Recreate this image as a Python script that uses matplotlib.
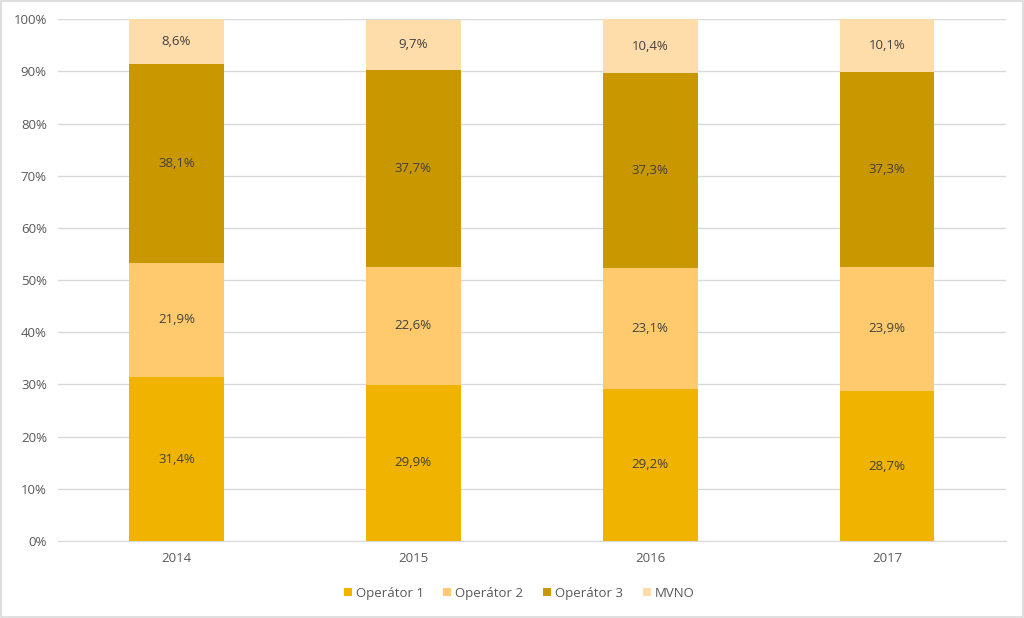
import matplotlib
matplotlib.use("Agg")
import matplotlib.pyplot as plt
from matplotlib.ticker import FuncFormatter, MultipleLocator
from matplotlib.patches import Rectangle

years = ["2014", "2015", "2016", "2017"]
series_names = ["Operátor 1", "Operátor 2", "Operátor 3", "MVNO"]
operator1 = [31.4, 29.9, 29.2, 28.7]
operator2 = [21.9, 22.6, 23.1, 23.9]
operator3 = [38.1, 37.7, 37.3, 37.3]
mvno = [8.6, 9.7, 10.4, 10.1]
colors = ["#F0B400", "#FFCA6E", "#C99700", "#FFDDAA"]

plt.rcParams['font.family'] = ['Open Sans', 'DejaVu Sans']

fig = plt.figure(figsize=(10.24, 6.18), dpi=100)
ax = fig.add_axes([0.0566, 0.1246, 0.9254, 0.8444])

x = list(range(len(years)))
bottom = [0.0] * len(years)
handles = []
for name, vals, col in zip(series_names, [operator1, operator2, operator3, mvno], colors):
    h = ax.bar(x, vals, width=0.4, bottom=bottom, color=col, label=name, zorder=3)
    handles.append(h)
    for xi, b, v in zip(x, bottom, vals):
        ax.text(xi, b + v / 2, f"{v:.1f}".replace(".", ",") + "%", ha="center", va="center",
                fontsize=9.5, color="#404040", zorder=4)
    bottom = [b + v for b, v in zip(bottom, vals)]

ax.set_xlim(-0.5, 3.5)
ax.set_ylim(0, 100)
ax.yaxis.set_major_locator(MultipleLocator(10))
ax.yaxis.set_major_formatter(FuncFormatter(lambda v, p: f"{int(round(v))}%"))
ax.set_xticks(x)
ax.set_xticklabels(years)
ax.tick_params(axis="both", length=0, labelsize=9.5, colors="#595959")
ax.tick_params(axis="x", pad=8)
ax.tick_params(axis="y", pad=8)
ax.grid(axis="y", color="#D9D9D9", linewidth=1, zorder=0)
for s in ["top", "right", "left"]:
    ax.spines[s].set_visible(False)
ax.spines["bottom"].set_color("#D9D9D9")
ax.spines["bottom"].set_zorder(2)

leg = fig.legend(handles=handles, labels=series_names, loc="center", bbox_to_anchor=(0.507, 0.04),
                 ncol=4, frameon=False, fontsize=9.5, handlelength=0.6, handleheight=0.6,
                 handletextpad=0.3, columnspacing=1.5)
for t in leg.get_texts():
    t.set_color("#595959")

fig.add_artist(Rectangle((0.001, 0.001), 0.998, 0.998, transform=fig.transFigure,
                         fill=False, edgecolor="#D9D9D9", linewidth=1.2))

fig.savefig("out.png", dpi=100, facecolor="white")
